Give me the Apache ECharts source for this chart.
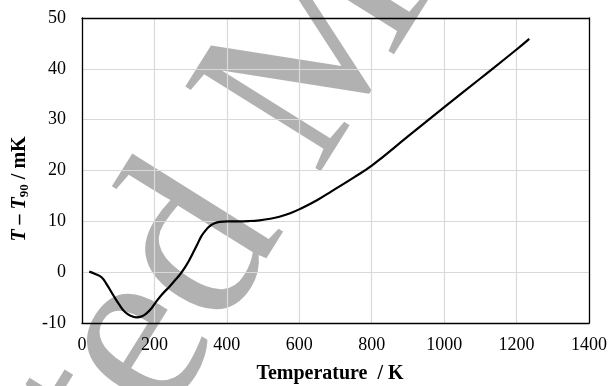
<!DOCTYPE html>
<html>
<head>
<meta charset="utf-8">
<script src="https://cdn.jsdelivr.net/npm/echarts@6/dist/echarts.min.js"></script>
<style>
  html, body { margin: 0; padding: 0; background: #fff; }
  #chart { width: 610px; height: 386px; }
</style>
</head>
<body>
<div id="chart"></div>
<script>
// Deviation T - T90 (mK) versus temperature (K)
const temperatureK = [20, 35, 54, 70, 86, 102, 118, 135, 150, 165, 178, 192, 205, 222, 242, 258, 270, 283, 295, 306, 318, 329, 340, 352, 366, 380, 402, 430, 460, 490, 520, 545, 575, 604, 650, 691, 750, 801, 900, 1003, 1100, 1200, 1235];
const deltaMk = [0.1, -0.3, -1.0, -2.6, -4.5, -6.3, -7.8, -8.6, -8.9, -8.7, -8.1, -7.1, -5.8, -4.3, -2.8, -1.5, -0.5, 0.8, 2.2, 3.7, 5.4, 7.0, 8.1, 9.0, 9.6, 9.9, 10.0, 10.0, 10.05, 10.2, 10.5, 10.9, 11.6, 12.5, 14.2, 16.0, 18.6, 21.0, 26.7, 32.6, 38.1, 43.8, 45.9];

const xTicks = [0, 200, 400, 600, 800, 1000, 1200, 1400];
const yTicks = [-10, 0, 10, 20, 30, 40, 50];

const serif = '"Liberation Serif", "Times New Roman", serif';
const chart = echarts.init(document.getElementById('chart'), null, { renderer: 'canvas' });

const frameLine = { show: true, onZero: false, lineStyle: { color: '#000', width: 1.3 } };
const plain = v => String(v);
const markGray = 'rgba(70,70,70,0.42)';

chart.setOption({
  animation: false,
  backgroundColor: '#fff',
  grid: { left: 82, right: 19, top: 18, bottom: 63 },
  xAxis: [{
    type: 'value',
    min: xTicks[0], max: xTicks[xTicks.length - 1], interval: 200,
    axisLine: frameLine,
    axisTick: { show: false },
    axisLabel: { color: '#000', fontFamily: serif, fontSize: 18, margin: 13, formatter: plain },
    splitLine: { show: true, lineStyle: { color: '#d9d9d9', width: 1.2 } }
  }, {
    type: 'value', position: 'top',
    min: xTicks[0], max: xTicks[xTicks.length - 1], interval: 200,
    axisLine: frameLine, axisTick: { show: false }, axisLabel: { show: false }, splitLine: { show: false }
  }],
  yAxis: [{
    type: 'value',
    min: yTicks[0], max: yTicks[yTicks.length - 1], interval: 10,
    axisLine: frameLine,
    axisTick: { show: false },
    axisLabel: { color: '#000', fontFamily: serif, fontSize: 18, margin: 16, formatter: plain },
    splitLine: { show: true, lineStyle: { color: '#d9d9d9', width: 1.2 } }
  }, {
    type: 'value', position: 'right',
    min: yTicks[0], max: yTicks[yTicks.length - 1], interval: 10,
    axisLine: frameLine, axisTick: { show: false }, axisLabel: { show: false }, splitLine: { show: false }
  }],
  graphic: [
    // diagonal watermark
    {
      type: 'group', x: 366, y: 208, rotation: 58 * Math.PI / 180, z: 1, silent: true,
      children: [
        { type: 'text', style: { text: 'Accepted ', fontFamily: serif, fontSize: 244, fill: markGray, align: 'right', verticalAlign: 'bottom' } },
        { type: 'text', style: { text: 'Manuscript', fontFamily: serif, fontSize: 244, fill: markGray, align: 'left', verticalAlign: 'bottom' } }
      ]
    },
    {
      type: 'text', x: 330, y: 374, z: 5,
      style: { text: 'Temperature  / K', fontFamily: serif, fontSize: 20, fontWeight: 'bold', fill: '#000', align: 'center', verticalAlign: 'middle' }
    },
    {
      type: 'text', x: 19.5, y: 189, rotation: Math.PI / 2, z: 5,
      style: {
        text: '{it|T} – {it|T}{sub|90} / mK',
        fontFamily: serif, fontSize: 20, fontWeight: 'bold', fill: '#000',
        align: 'center', verticalAlign: 'middle',
        rich: {
          it: { fontFamily: serif, fontSize: 20, fontWeight: 'bold', fontStyle: 'italic', fill: '#000' },
          sub: { fontFamily: serif, fontSize: 13, fontWeight: 'bold', fill: '#000', padding: [10, 0, 0, 0] }
        }
      }
    }
  ],
  series: [{
    type: 'line',
    data: temperatureK.map((t, i) => [t, deltaMk[i]]),
    smooth: 0.45,
    showSymbol: false,
    z: 3,
    lineStyle: { color: '#000', width: 2.2 }
  }]
});
</script>
</body>
</html>
